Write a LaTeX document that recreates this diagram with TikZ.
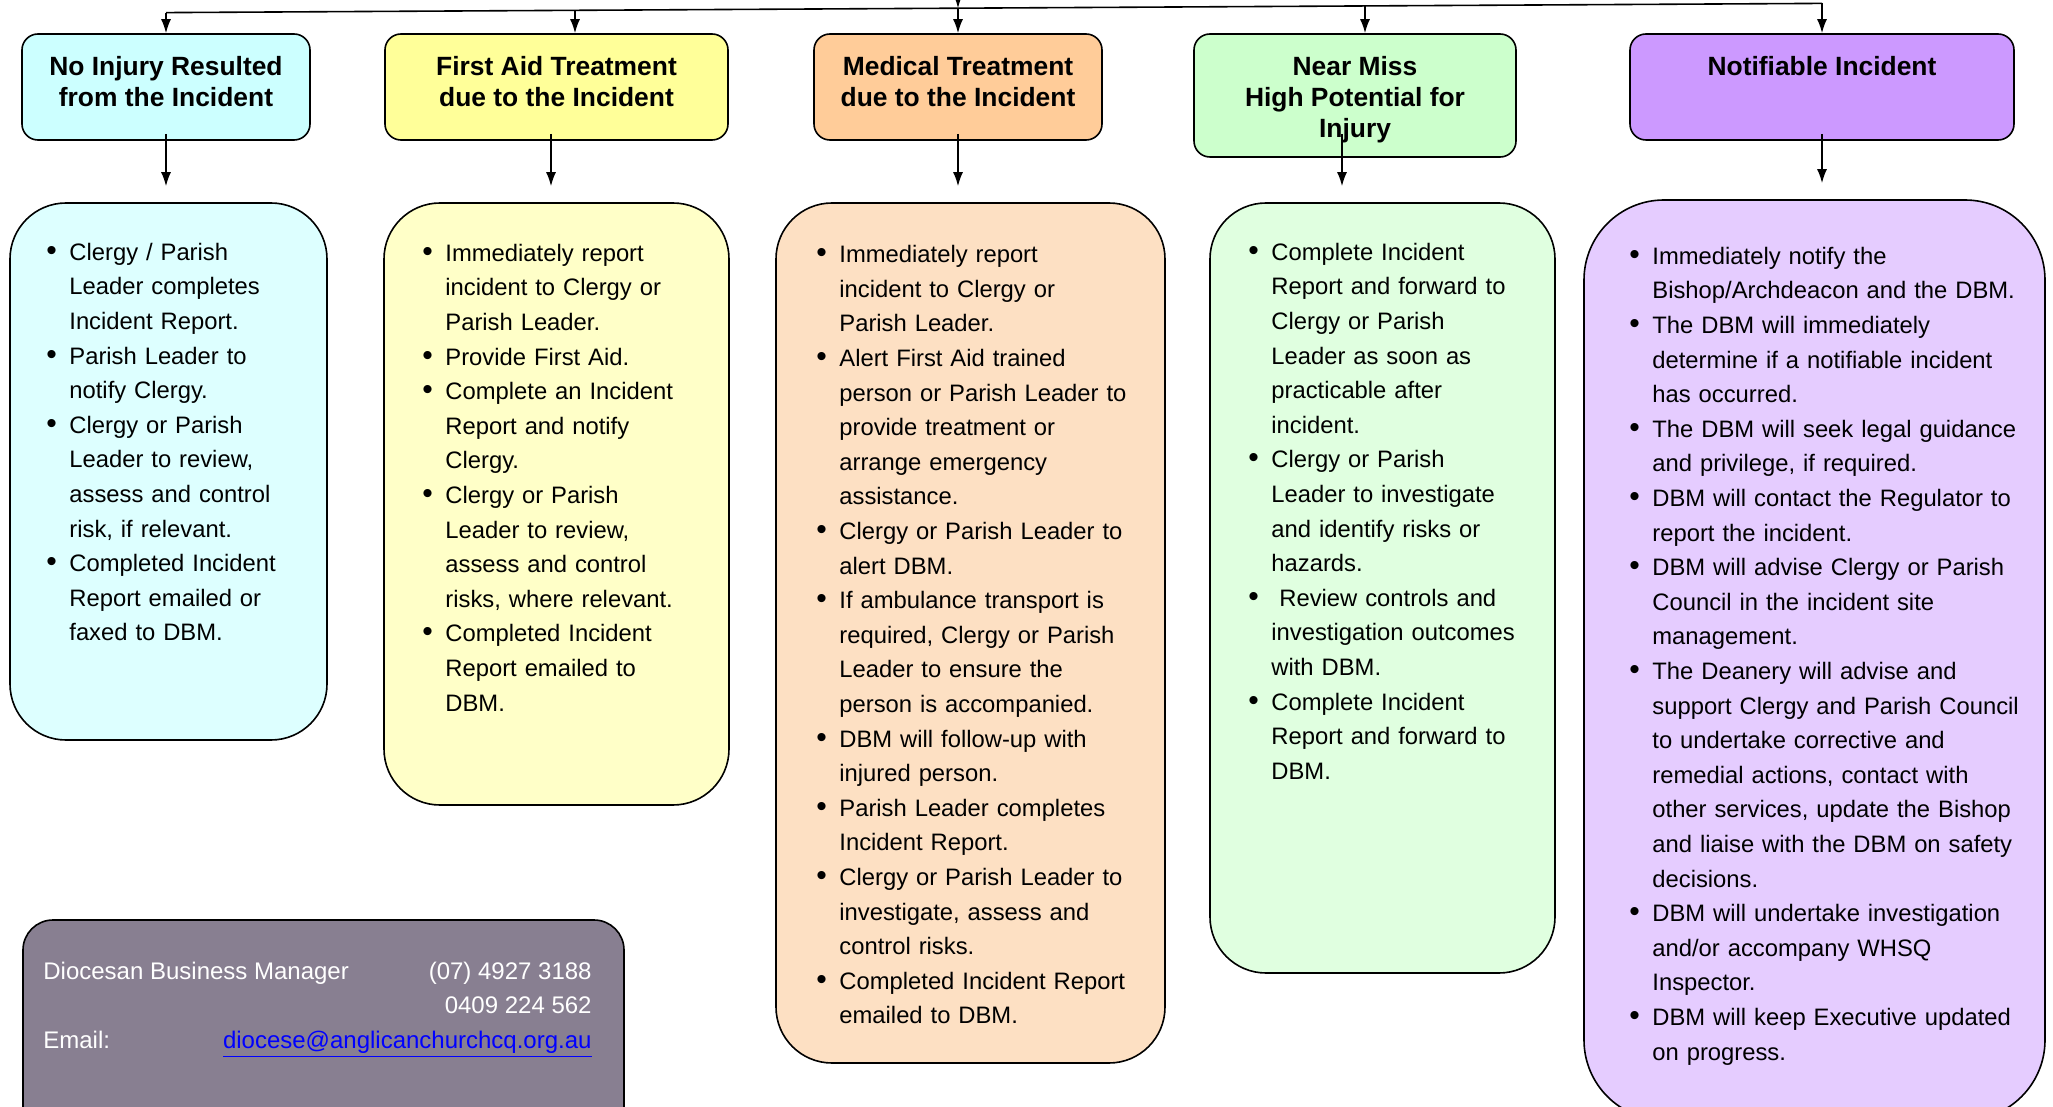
\documentclass[tikz,border=0pt]{standalone}
\usepackage{fontspec}
\setmainfont{Liberation Sans}
\usepackage{tikz}
\usetikzlibrary{positioning,calc,arrows.meta}

\definecolor{noinjhead}{HTML}{CCFFFF}
\definecolor{noinjbody}{HTML}{DDFFFF}
\definecolor{aidhead}{HTML}{FFFF99}
\definecolor{aidbody}{HTML}{FFFFC8}
\definecolor{medhead}{HTML}{FFCC99}
\definecolor{medbody}{HTML}{FDE0C3}
\definecolor{nearhead}{HTML}{CCFFCC}
\definecolor{nearbody}{HTML}{E0FFE0}
\definecolor{notifhead}{HTML}{CC99FF}
\definecolor{notifbody}{HTML}{E5CCFF}
\definecolor{footgrey}{HTML}{887F91}
\definecolor{linkblue}{HTML}{0000FF}

\newcommand\itm{\par\noindent\llap{\makebox[11.5pt][l]{\fontsize{15}{15}\selectfont\textbullet}}\strut}

\begin{document}
\begin{tikzpicture}[x=1pt,y=-1pt]
\tikzstyle{every node}+=[inner sep=0pt]
\tikzstyle{head}=[draw=black, line width=0.8pt, rounded corners=8pt]
\tikzstyle{card}=[draw=black, line width=0.8pt, rounded corners=28pt]
\tikzstyle{headtxt}=[font=\fontsize{13.2}{15.4}\selectfont\bfseries, align=center]
\tikzstyle{bodytxt}=[font=\fontsize{11.9}{17.3}\selectfont, text width=200pt, align=left, anchor=north west]
\tikzstyle{foottxt}=[font=\fontsize{12}{17.3}\selectfont, text=white]
\tikzstyle{arr}=[line width=0.8pt, -{Latex[length=7pt,width=5pt]}]
\useasboundingbox (0,0) rectangle (1026.5,553.5);

% incident headers
\node[head, fill=noinjhead, minimum width=144pt, minimum height=53pt] (h1) at (83,43.5) {};
\node[head, fill=aidhead, minimum width=171.5pt, minimum height=53pt] (h2) at (278.25,43.5) {};
\node[head, fill=medhead, minimum width=144pt, minimum height=53pt] (h3) at (479,43.5) {};
\node[head, fill=nearhead, minimum width=161pt, minimum height=61.5pt] (h4) at (677.5,47.75) {};
\node[head, fill=notifhead, minimum width=192pt, minimum height=53pt] (h5) at (911,43.5) {};
\node[headtxt, below=10.4pt of h1.north] (ht1) {\strut No Injury Resulted\\from the Incident};
\node[headtxt, below=10.4pt of h2.north] (ht2) {\strut First Aid Treatment\\due to the Incident};
\node[headtxt, below=10.4pt of h3.north] (ht3) {\strut Medical Treatment\\due to the Incident};
\node[headtxt, below=10.4pt of h4.north] (ht4) {\strut Near Miss\\High Potential for\\Injury};
\node[headtxt, below=10.4pt of h5.north] (ht5) {\strut Notifiable Incident};

% action cards
\node[card, fill=noinjbody, minimum width=158.5pt, minimum height=268.5pt] (c1) at (84.25,235.75) {};
\node[card, fill=aidbody, minimum width=172.5pt, minimum height=301pt] (c2) at (278.25,252) {};
\node[card, fill=medbody, minimum width=194.5pt, minimum height=430pt] (c3) at (485.25,316.5) {};
\node[card, fill=nearbody, minimum width=172.5pt, minimum height=385pt] (c4) at (691.25,294) {};
\node[card, fill=notifbody, rounded corners=40pt, minimum width=230.5pt, minimum height=460pt] (c5) at (907.25,330) {};

\node[bodytxt] (l1) at (23,112.7) {\parindent=0pt\leftskip=11.5pt
\itm Clergy / Parish\\Leader completes\\Incident Report.
\itm Parish Leader to\\notify Clergy.
\itm Clergy or Parish\\Leader to review,\\assess and control\\risk, if relevant.
\itm Completed Incident\\Report emailed or\\faxed to DBM.\par};
\node[bodytxt] (l2) at (211,113.2) {\parindent=0pt\leftskip=11.5pt
\itm Immediately report\\incident to Clergy or\\Parish Leader.
\itm Provide First Aid.
\itm Complete an Incident\\Report and notify\\Clergy.
\itm Clergy or Parish\\Leader to review,\\assess and control\\risks, where relevant.
\itm Completed Incident\\Report emailed to\\DBM.\par};
\node[bodytxt] (l3) at (408,113.9) {\parindent=0pt\leftskip=11.5pt
\itm Immediately report\\incident to Clergy or\\Parish Leader.
\itm Alert First Aid trained\\person or Parish Leader to\\provide treatment or\\arrange emergency\\assistance.
\itm Clergy or Parish Leader to\\alert DBM.
\itm If ambulance transport is\\required, Clergy or Parish\\Leader to ensure the\\person is accompanied.
\itm DBM will follow-up with\\injured person.
\itm Parish Leader completes\\Incident Report.
\itm Clergy or Parish Leader to\\investigate, assess and\\control risks.
\itm Completed Incident Report\\emailed to DBM.\par};
\node[bodytxt] (l4) at (624,112.7) {\parindent=0pt\leftskip=11.5pt
\itm Complete Incident\\Report and forward to\\Clergy or Parish\\Leader as soon as\\practicable after\\incident.
\itm Clergy or Parish\\Leader to investigate\\and identify risks or\\hazards.
\itm\ Review controls and\\investigation outcomes\\with DBM.
\itm Complete Incident\\Report and forward to\\DBM.\par};
\node[bodytxt] (l5) at (814.5,114.7) {\parindent=0pt\leftskip=11.5pt
\itm Immediately notify the\\Bishop/Archdeacon and the DBM.
\itm The DBM will immediately\\determine if a notifiable incident\\has occurred.
\itm The DBM will seek legal guidance\\and privilege, if required.
\itm DBM will contact the Regulator to\\report the incident.
\itm DBM will advise Clergy or Parish\\Council in the incident site\\management.
\itm The Deanery will advise and\\support Clergy and Parish Council\\to undertake corrective and\\remedial actions, contact with\\other services, update the Bishop\\and liaise with the DBM on safety\\decisions.
\itm DBM will undertake investigation\\and/or accompany WHSQ\\Inspector.
\itm DBM will keep Executive updated\\on progress.\par};

% contact box
\node[draw=black, line width=0.8pt, fill=footgrey, rounded corners=15pt, minimum width=300.5pt, minimum height=120pt] (foot) at (161.75,520) {};
\node[foottxt, anchor=base west] (fmgr) at (21.5,489.5) {Diocesan Business Manager};
\node[foottxt, anchor=base east] (fph1) at (296,489.5) {(07) 4927 3188};
\node[foottxt, anchor=base east] (fph2) at (296,506.8) {0409 224 562};
\node[foottxt, anchor=base west] (femlab) at (21.5,524.1) {Email:};
\node[foottxt, anchor=base east, text=linkblue] (femail) at (296,524.1) {\underline{diocese@anglicanchurchcq.org.au}};

% distribution line
\coordinate (tl) at (83,6.3);
\coordinate (tr) at (911,1.7);
\coordinate (src) at (479,-6);
\coordinate (t2) at (287.5,5.2);
\coordinate (t3) at (479,4.1);
\coordinate (t4) at (682.5,3);
\draw[line width=0.8pt] (tl) -- (tr);
\draw[arr] (src) -- (t3);
\draw[arr] (tl) -- (h1.north);
\draw[arr] (t2) -- (t2 |- h2.north);
\draw[arr] (t3) -- (h3.north);
\draw[arr] (t4) -- (t4 |- h4.north);
\draw[arr] (tr) -- (h5.north);

% header to card
\coordinate (b1) at (83,67);
\coordinate (b2) at (275.5,67);
\coordinate (b3) at (479,67);
\coordinate (b4) at (671,67);
\coordinate (b5) at (911,67);
\foreach \i in {1,...,5}
  \draw[arr] (b\i) -- ($(b\i |- c\i.north)+(0,-8)$);
\end{tikzpicture}
\end{document}
